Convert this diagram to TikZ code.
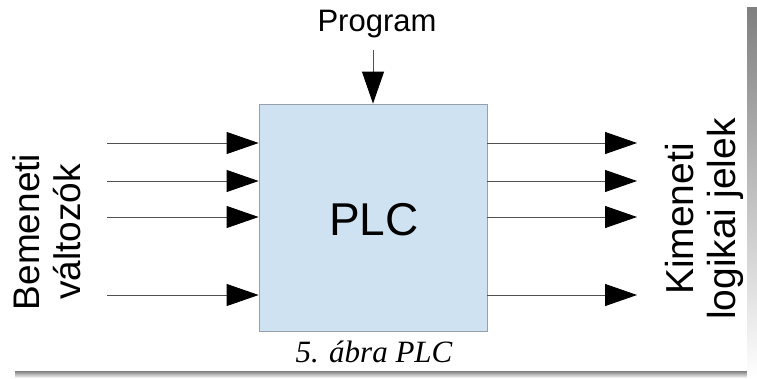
\documentclass[tikz,border=0pt]{standalone}
\usepackage{fontspec}
\setmainfont{Liberation Sans}
\newfontfamily\capfont{Liberation Serif}
\usetikzlibrary{arrows.meta}
\definecolor{boxfill}{RGB}{207,226,242}
\definecolor{boxline}{RGB}{150,160,170}
\definecolor{shade}{RGB}{128,128,128}
\definecolor{wire}{RGB}{80,80,80}
\tikzset{
  sig/.style={draw=wire, line width=0.9pt, -{Triangle[length=32pt,width=22pt,fill=black,color=black]}},
  plcbox/.style={draw=boxline, fill=boxfill, line width=0.8pt, minimum width=228pt, minimum height=227pt, inner sep=0pt},
  sidelabel/.style={rotate=90, align=center, inner sep=0pt, font=\fontsize{37}{41}\selectfont}
}
\begin{document}
\begin{tikzpicture}[x=1pt,y=-1pt]
\useasboundingbox (0,0) rectangle (757,378);
% shadow frame
\fill[shade] (15,371) rectangle (757,378);
\fill[shade] (747,7) rectangle (757,378);
% PLC box
\node[plcbox] (plc) at (373,217.5) {};
\node[font=\fontsize{46}{50}\selectfont] (plct) at (374,220) {PLC};
% program
\node[font=\fontsize{31}{34}\selectfont, inner sep=0pt] (prog) at (377,24) {Program};
\coordinate (progin) at (373,50);
\draw[sig] (progin) -- (plc.north);
% inputs
\coordinate (i1) at (107,143);
\coordinate (i2) at (107,181);
\coordinate (i3) at (107,217);
\coordinate (i4) at (107,295);
\foreach \n in {i1,i2,i3,i4} \draw[sig] (\n) -- (plc.west |- \n);
% outputs
\coordinate (o1) at (637,143);
\coordinate (o2) at (637,181);
\coordinate (o3) at (637,217);
\coordinate (o4) at (637,295);
\foreach \n in {o1,o2,o3,o4} \draw[sig] (plc.east |- \n) -- (\n);
% side labels
\node[sidelabel] (inlab) at (47,232) {Bemeneti\\változók};
\node[sidelabel, font=\fontsize{39}{42}\selectfont] (outlab) at (704,219) {Kimeneti\\logikai jelek};
% caption
\node[font=\capfont\itshape\fontsize{31}{34}\selectfont, anchor=base, inner sep=0pt] (cap) at (374,362) {5. ábra PLC};
\end{tikzpicture}
\end{document}
